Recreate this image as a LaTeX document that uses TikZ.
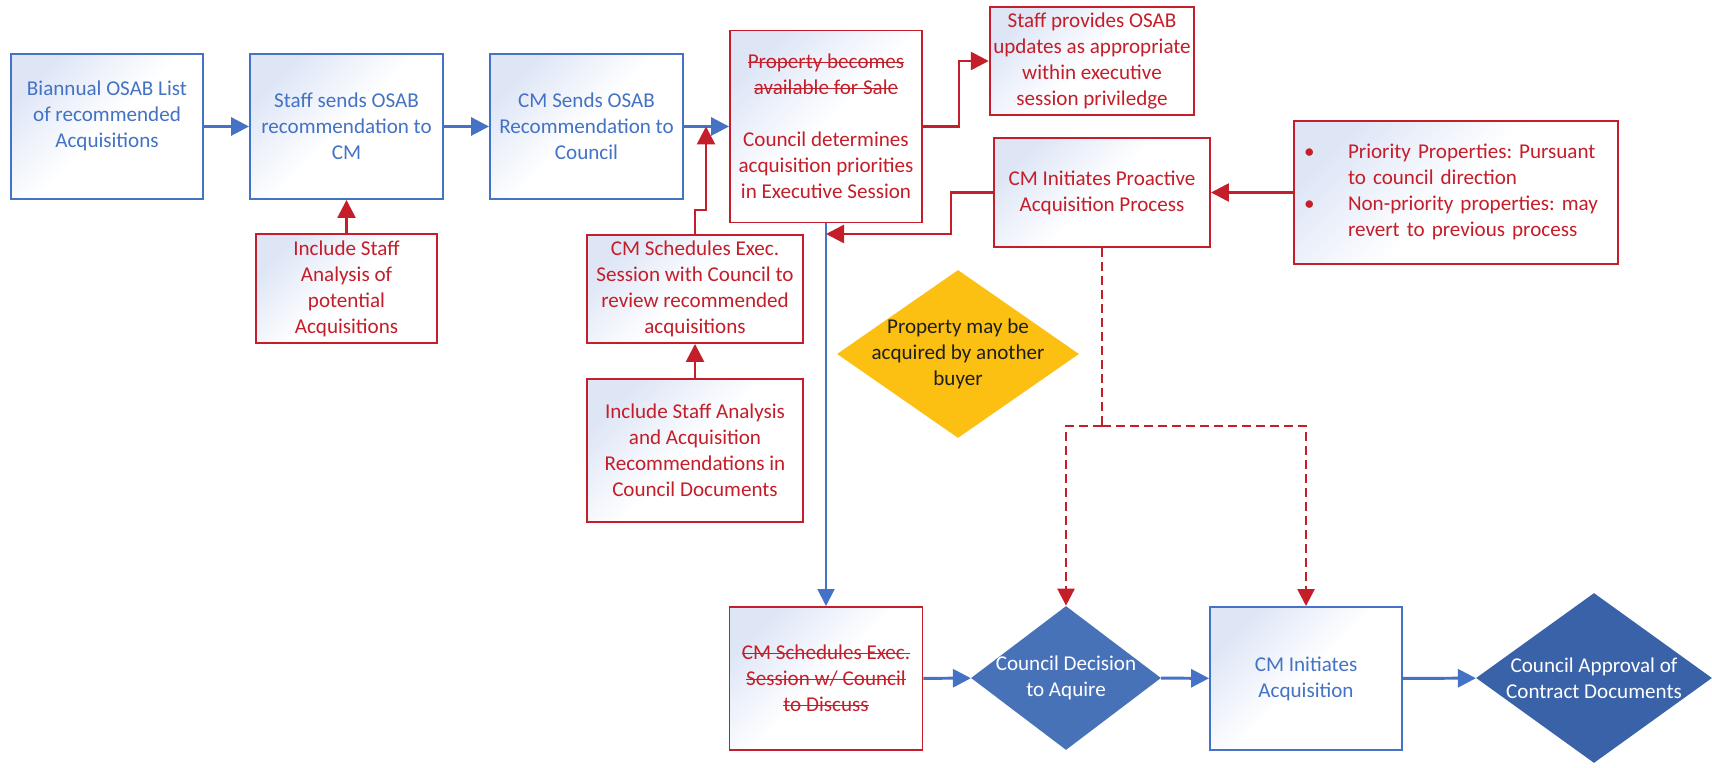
\documentclass[tikz,border=0pt]{standalone}
\usepackage{fontspec}
\setmainfont{Carlito}
\usetikzlibrary{shapes.geometric,arrows.meta}
\definecolor{osblue}{RGB}{68,114,196}
\definecolor{osred}{RGB}{196,30,42}
\definecolor{boxtint}{RGB}{222,230,246}
\definecolor{maygold}{RGB}{251,192,18}
\definecolor{decblue}{RGB}{72,114,184}
\definecolor{appblue}{RGB}{58,98,168}
\newsavebox\strkbox
\newcommand{\strk}[1]{\sbox\strkbox{#1}\rlap{\usebox\strkbox}\rule[0.25em]{\wd\strkbox}{0.06em}}
\tikzset{
  bluebox/.style={draw=osblue, line width=1.1pt, text=osblue, top color=boxtint, bottom color=white, middle color=white, shading angle=45, align=center, inner sep=2pt},
  redbox/.style={bluebox, draw=osred, text=osred},
  choice/.style={diamond, inner sep=0pt},
  dtext/.style={align=center},
  blueflow/.style={draw=osblue, line width=1.7pt, -{Triangle[length=0.36cm,width=0.36cm]}},
  bluethin/.style={draw=osblue, line width=1.1pt, -{Triangle[length=0.34cm,width=0.34cm]}},
  redflow/.style={draw=osred, line width=1.5pt, -{Triangle[length=0.36cm,width=0.36cm]}},
  reddash/.style={draw=osred, line width=1.5pt, dash pattern=on 0.18cm off 0.1cm}
}
\begin{document}
\frenchspacing
\begin{tikzpicture}[font=\fontsize{12}{14.8}\selectfont]
            \useasboundingbox (0,0) rectangle (34.24,15.36);
            \node[bluebox, minimum width=3.84cm, minimum height=2.9cm] (osab) at (2.14,12.83) {Biannual OSAB List\\of recommended\\Acquisitions\\[-5.6pt]\strut};
            \node[bluebox, minimum width=3.86cm, minimum height=2.9cm] (staff) at (6.93,12.83) {Staff sends OSAB\\recommendation to\\CM};
            \node[bluebox, minimum width=3.86cm, minimum height=2.9cm] (cmsend) at (11.73,12.83) {CM Sends OSAB\\Recommendation to\\Council};
            \node[redbox, minimum width=3.84cm, minimum height=3.84cm] (council) at (16.52,12.83) {\strk{Property becomes}\\\strk{available for Sale}\\[14.8pt]Council determines\\acquisition priorities\\in Executive Session};
            \node[redbox, minimum width=3.92cm, minimum height=2.16cm] (updates) at (21.84,14.14) {Staff provides OSAB\\updates as appropriate\\within executive\\session priviledge};
            \node[redbox, minimum width=4.32cm, minimum height=2.18cm] (proact) at (22.04,11.51) {CM Initiates Proactive\\Acquisition Process};
            \node[redbox, minimum width=6.48cm, minimum height=2.86cm, text width=6.08cm, align=left, inner xsep=0.2cm] (bullets) at (29.12,11.51) {\begin{tabular}{@{}p{0.88cm}@{}l@{}}\textbullet & Priority Properties: Pursuant\\ & to council direction\\\textbullet & Non-priority properties: may\\ & revert to previous process\end{tabular}};
            \node[redbox, minimum width=3.62cm, minimum height=2.18cm] (anal1) at (6.93,9.59) {Include Staff\\Analysis of\\potential\\Acquisitions};
            \node[redbox, minimum width=4.32cm, minimum height=2.16cm] (sched) at (13.90,9.58) {CM Schedules Exec.\\Session with Council to\\review recommended\\acquisitions};
            \node[redbox, minimum width=4.32cm, minimum height=2.86cm] (anal2) at (13.90,6.35) {Include Staff Analysis\\and Acquisition\\Recommendations in\\Council Documents};
            \node[choice, fill=maygold, minimum width=4.84cm, minimum height=3.36cm, label={[dtext, text=black!88]center:Property may be\\acquired by another\\buyer}] (maybuy) at (19.16,8.28) {};
            \node[redbox, minimum width=3.86cm, minimum height=2.86cm] (discuss) at (16.52,1.79) {\strk{CM Schedules Exec.}\\\strk{Session w/ Council}\\\strk{to Discuss}};
            \node[choice, fill=decblue, minimum width=3.8cm, minimum height=2.88cm, label={[dtext, text=white]center:Council Decision\\to Aquire}] (decide) at (21.32,1.80) {};
            \node[bluebox, minimum width=3.84cm, minimum height=2.86cm] (initacq) at (26.12,1.79) {CM Initiates\\Acquisition};
            \node[choice, fill=appblue, minimum width=4.72cm, minimum height=3.4cm, label={[dtext, text=white]center:Council Approval of\\Contract Documents}] (approve) at (31.88,1.80) {};

            \coordinate (cdjoin) at (14.12,12.83);
            \coordinate (dkjoin) at (16.52,10.68);
            \coordinate (split) at (22.04,6.84);

            \draw[blueflow] (osab) -- (staff);
            \draw[blueflow] (staff) -- (cmsend);
            \draw[blueflow] (cmsend) -- (council);
            \draw[bluethin] (council) -- (discuss);
            \draw[blueflow] (discuss) -- (decide);
            \draw[blueflow] (decide) -- (initacq);
            \draw[blueflow] (initacq) -- (approve);
            \draw[redflow] (anal1) -- (staff);
            \draw[redflow] (anal2) -- (sched);
            \draw[redflow] (sched.north) -- ++(0,0.48) -| (cdjoin);
            \draw[redflow] (council.east) -- ++(0.72,0) |- (updates.west);
            \draw[redflow] (proact.west) -- ++(-0.84,0) |- (dkjoin);
            \draw[redflow] (bullets) -- (proact);
            \draw[reddash] (proact) -- (split);
            \draw[reddash, -{Triangle[length=0.34cm,width=0.34cm]}] (split) -| (decide.north);
            \draw[reddash, -{Triangle[length=0.34cm,width=0.34cm]}] (split) -| (initacq.north);
\end{tikzpicture}
\end{document}
